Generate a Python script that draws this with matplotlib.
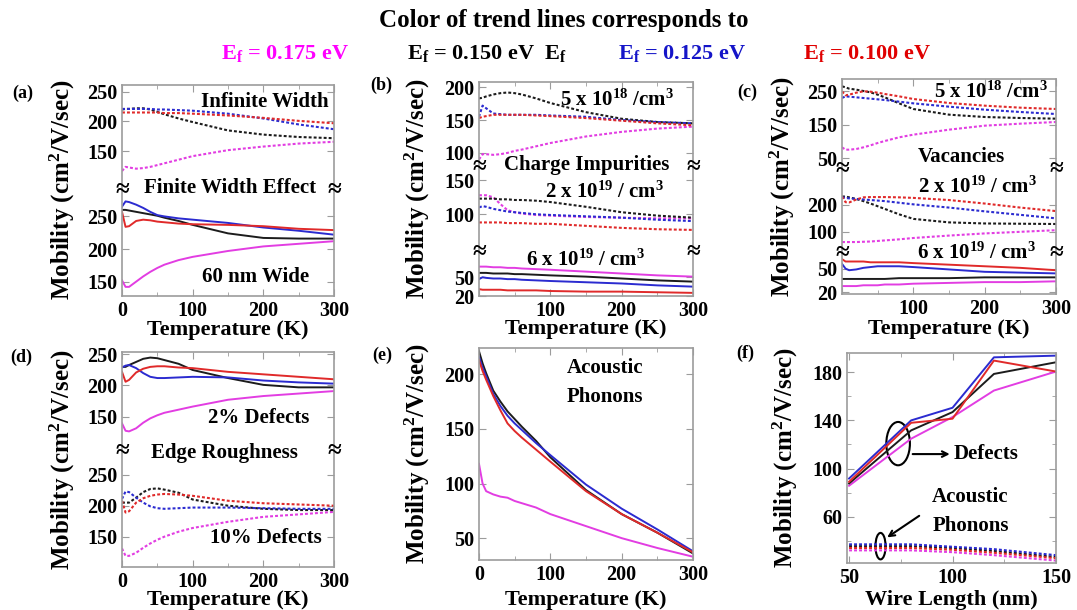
import numpy as np
import matplotlib
matplotlib.use("Agg")
import matplotlib.pyplot as plt
from matplotlib.patches import Ellipse

plt.rcParams["font.family"] = ["Liberation Serif", "DejaVu Serif"]
plt.rcParams["font.weight"] = "bold"
plt.rcParams["mathtext.fontset"] = "custom"
plt.rcParams["mathtext.rm"] = "Liberation Serif:bold"
plt.rcParams["mathtext.it"] = "Liberation Serif:bold"
plt.rcParams["mathtext.bf"] = "Liberation Serif:bold"

# temperature grid shared by panels (a)-(e)
T = [0, 5, 10, 20, 30, 40, 50, 60, 80, 100, 150, 200, 250, 300]

# (a) infinite width (dotted) / 60 nm wide (solid)
a_inf = {"m": [117, 124, 123, 121, 122, 124, 127, 130, 136, 142, 152, 158, 163, 166],
         "k": [220, 221, 221, 222, 222, 220, 216, 212, 205, 199, 185, 178, 174, 172],
         "b": [221, 221, 221, 221, 221, 221, 220, 220, 219, 218, 213, 205, 195, 187],
         "r": [215, 215, 215, 215, 215, 215, 215, 214, 214, 213, 210, 206, 201, 197]}
a_fin = {"m": [152, 142, 142, 150, 158, 165, 171, 176, 183, 188, 197, 204, 208, 212],
         "k": [260, 260, 259, 257, 255, 253, 251, 248, 243, 237, 224, 217, 216, 216],
         "b": [265, 273, 272, 268, 263, 257, 252, 250, 247, 245, 240, 233, 228, 222],
         "r": [257, 234, 235, 243, 245, 244, 242, 241, 239, 238, 237, 235, 231, 229]}

# (b) charge impurities
b_5e18 = {"m": [90, 98, 98, 97, 98, 100, 103, 105, 110, 115, 125, 132, 137, 140],
          "k": [183, 184, 186, 189, 191, 192, 191, 189, 183, 176, 162, 152, 147, 145],
          "b": [155, 172, 168, 160, 159, 158, 158, 158, 158, 157, 155, 150, 147, 145],
          "r": [153, 155, 156, 158, 158, 158, 158, 158, 157, 156, 153, 149, 145, 142]}
b_2e19 = {"m": [128, 128, 128, 125, 115, 106, 103, 101, 99, 98, 96, 95, 94, 94],
          "k": [123, 123, 123, 123, 122, 122, 121, 121, 120, 118, 111, 103, 98, 95],
          "b": [110, 112, 111, 108, 106, 104, 103, 102, 100, 99, 97, 95, 92, 90],
          "r": [88, 88, 88, 88, 88, 87, 87, 87, 86, 86, 83, 80, 78, 77]}
b_6e19 = {"m": [67, 67, 67, 66, 66, 65, 65, 64, 63, 62, 59, 56, 53, 51],
          "k": [57, 57, 57, 56, 56, 56, 55, 55, 54, 53, 51, 48, 45, 43],
          "b": [47, 50, 49, 48, 48, 47, 47, 46, 45, 44, 42, 40, 37, 35],
          "r": [31, 30, 30, 30, 30, 29, 29, 29, 29, 28, 27, 27, 26, 25]}

# (c) vacancies
c_5e18 = {"m": [82, 75, 75, 77, 82, 88, 95, 101, 112, 120, 135, 147, 153, 158],
          "k": [265, 262, 258, 255, 251, 247, 240, 232, 214, 197, 180, 173, 170, 168],
          "b": [230, 235, 234, 232, 230, 228, 226, 224, 219, 214, 204, 195, 188, 182],
          "r": [250, 238, 240, 246, 250, 249, 246, 242, 235, 227, 215, 207, 201, 197]}
c_2e19 = {"m": [62, 62, 62, 62, 63, 64, 66, 68, 72, 77, 86, 94, 100, 106],
          "k": [231, 231, 228, 222, 214, 205, 195, 185, 165, 148, 135, 131, 130, 129],
          "b": [228, 226, 224, 222, 220, 218, 216, 214, 208, 202, 190, 176, 163, 150],
          "r": [231, 210, 209, 220, 228, 229, 229, 229, 228, 226, 218, 205, 190, 177]}
c_6e19 = {"m": [28, 28, 28, 28, 29, 29, 29, 30, 30, 31, 32, 33, 33, 34],
          "k": [37, 37, 37, 37, 37, 37, 37, 37, 38, 38, 38, 39, 39, 39],
          "b": [56, 50, 48, 49, 51, 52, 53, 53, 53, 52, 49, 46, 45, 44],
          "r": [62, 59, 59, 59, 59, 58, 58, 58, 58, 57, 55, 53, 51, 48]}

# (d) edge roughness: 2% (solid) / 10% (dotted)
d_2 = {"m": [139, 127, 126, 131, 140, 147, 152, 156, 161, 166, 177, 183, 187, 191],
       "k": [230, 230, 233, 238, 243, 245, 244, 241, 235, 225, 212, 201, 197, 197],
       "b": [229, 232, 233, 228, 220, 214, 212, 212, 213, 214, 213, 208, 205, 203],
       "r": [222, 206, 209, 221, 227, 230, 231, 231, 229, 228, 222, 218, 214, 210]}
d_10 = {"m": [131, 119, 119, 124, 132, 139, 145, 150, 158, 164, 174, 182, 186, 190],
        "k": [205, 205, 205, 213, 222, 227, 228, 226, 221, 210, 200, 195, 193, 193],
        "b": [211, 223, 222, 213, 205, 199, 196, 195, 196, 197, 197, 196, 195, 195],
        "r": [208, 189, 191, 205, 212, 216, 218, 219, 218, 216, 208, 204, 202, 200]}

# (e) acoustic phonons
e_ac = {"m": [118, 100, 93, 90, 88, 87, 84, 82, 78, 72, 61, 50, 41, 33],
        "k": [221, 210, 201, 185, 175, 166, 159, 152, 139, 124, 94, 72, 55, 36],
        "b": [216, 206, 198, 182, 171, 162, 155, 149, 137, 126, 99, 77, 58, 38],
        "r": [213, 203, 195, 180, 167, 155, 148, 142, 131, 120, 93, 72, 55, 37]}

# (f) mobility vs wire length
L = [50, 80, 100, 120, 150]
f_def = {"m": [85.7, 124.8, 142.8, 164.8, 180.6],
         "k": [87.6, 131.7, 146.9, 178.6, 188.3],
         "b": [91.7, 140.0, 150.5, 192.4, 193.8],
         "r": [89.0, 138.0, 141.4, 189.7, 180.6]}
f_ac = {"m": [32, 32, 30.5, 28, 23.5],
        "k": [35.5, 35.5, 34, 31.5, 26.5],
        "b": [37, 37, 35, 33, 28],
        "r": [34, 34, 32.5, 30, 25.5]}

COL = {"m": "#e23de2", "k": "#1c1c1c", "b": "#2b2bd0", "r": "#e02a2a"}
GRAY = "#9c9c9c"
DOT = (0, (1.4, 1.0))
TICK_FS = 14.5
TXT_FS = 15

W, H = 1077, 610
fig = plt.figure(figsize=(W / 100, H / 100), dpi=100)


def box(x0, y0, x1, y1):
    return [x0 / W, 1 - y1 / H, (x1 - x0) / W, (y1 - y0) / H]


def ftext(x, y, s, **kw):
    kw.setdefault("ha", "center")
    kw.setdefault("va", "center")
    kw.setdefault("fontsize", TXT_FS)
    fig.text(x / W, 1 - y / H, s, fontweight="bold", **kw)


def style_ax(ax, top=True, bottom=True):
    for s in ax.spines.values():
        s.set_color(GRAY)
        s.set_linewidth(1.2)
    ax.spines["top"].set_visible(top)
    ax.spines["bottom"].set_visible(bottom)
    ax.tick_params(which="both", direction="in", colors=GRAY, labelcolor="black",
                   labelsize=TICK_FS, left=True, right=True, top=top, bottom=bottom,
                   labelbottom=bottom)
    ax.tick_params(which="major", length=5)
    ax.tick_params(which="minor", length=3)
    ax.patch.set_alpha(0)


def stack(x0, x1, ys, ylims, yticks, show0):
    axs = []
    n = len(ylims)
    for i in range(n):
        ax = fig.add_axes(box(x0, ys[i], x1, ys[i + 1]))
        ax.set_xlim(0, 300)
        ax.set_ylim(*ylims[i])
        ax.set_yticks(yticks[i])
        ax.set_xticks([0, 100, 200, 300])
        ax.set_xticks([50, 150, 250], minor=True)
        ax.set_xticklabels(["0" if show0 else "", "100", "200", "300"])
        style_ax(ax, top=(i == 0), bottom=(i == n - 1))
        axs.append(ax)
    for y in ys[1:-1]:
        ftext(x0, y, "≈", fontsize=18)
        ftext(x1, y, "≈", fontsize=18)
    return axs


def curves(ax, x, d, ls="-", lw=1.4):
    for k in ["m", "k", "b", "r"]:
        ax.plot(x, d[k], color=COL[k], lw=lw, ls=ls)


# header
ftext(564, 20, "Color of trend lines corresponds to", fontsize=18)
ftext(285, 54, r"E$_\mathregular{f}$ = 0.175 eV", fontsize=16, color="#ff00ff")
ftext(487, 54, r"E$_\mathregular{f}$ = 0.150 eV  E$_\mathregular{f}$", fontsize=16, color="black")
ftext(682, 54, r"E$_\mathregular{f}$ = 0.125 eV", fontsize=16, color="#1515c8")
ftext(867, 54, r"E$_\mathregular{f}$ = 0.100 eV", fontsize=16, color="#e00000")

YLAB = r"Mobility (cm$^\mathregular{2}$/V/sec)"

# (a)
ax_t, ax_b = stack(122, 334, [85, 189, 296], [(87, 261), (128, 292)],
                   [[150, 200, 250], [150, 200, 250]], True)
curves(ax_t, T, a_inf, DOT, 1.5)
curves(ax_b, T, a_fin)
ftext(265, 102, "Infinite Width")
ftext(230, 188, "Finite Width Effect")
ftext(256, 277, "60 nm Wide")
ftext(23, 93, "(a)", fontsize=13)
ftext(62, 190, YLAB, rotation=90, fontsize=18)
ftext(228, 330, "Temperature (K)", fontsize=16)

# (b)
b1, b2, b3 = stack(479, 693, [82, 166, 251, 296], [(80, 208), (46, 171), (20, 92)],
                   [[100, 150, 200], [100, 150], [20, 50]], False)
curves(b1, T, b_5e18, DOT, 1.5)
curves(b2, T, b_2e19, DOT, 1.5)
curves(b3, T, b_6e19)
ftext(617, 100, r"5 x 10$^{\mathregular{18}}$ /cm$^\mathregular{3}$")
ftext(587, 165, "Charge Impurities")
ftext(605, 192, r"2 x 10$^{\mathregular{19}}$ / cm$^\mathregular{3}$")
ftext(586, 260, r"6 x 10$^{\mathregular{19}}$ / cm$^\mathregular{3}$")
ftext(381, 85, "(b)", fontsize=13)
ftext(417, 189, YLAB, rotation=90, fontsize=18)
ftext(586, 329, "Temperature (K)", fontsize=16)

# (c)
c1, c2, c3 = stack(842, 1056, [79, 168, 252, 294], [(20, 287), (25, 337), (18, 71)],
                   [[50, 150, 250], [100, 200], [20, 50]], False)
curves(c1, T, c_5e18, DOT, 1.5)
curves(c2, T, c_2e19, DOT, 1.5)
curves(c3, T, c_6e19)
ftext(991, 92, r"5 x 10$^{\mathregular{18}}$ /cm$^\mathregular{3}$")
ftext(961, 157, "Vacancies")
ftext(978, 187, r"2 x 10$^{\mathregular{19}}$ / cm$^\mathregular{3}$")
ftext(977, 253, r"6 x 10$^{\mathregular{19}}$ / cm$^\mathregular{3}$")
ftext(747, 92, "(c)", fontsize=13)
ftext(782, 187, YLAB, rotation=90, fontsize=18)
ftext(949, 329, "Temperature (K)", fontsize=16)

# (d)
d1, d2 = stack(122, 334, [352, 450, 567], [(96, 254), (101, 290)],
               [[150, 200, 250], [150, 200, 250]], True)
curves(d1, T, d_2)
curves(d2, T, d_10, DOT, 1.5)
ftext(259, 418, "2% Defects")
ftext(224, 453, "Edge Roughness")
ftext(266, 538, "10% Defects")
ftext(21, 357, "(d)", fontsize=13)
ftext(62, 460, YLAB, rotation=90, fontsize=18)
ftext(228, 600, "Temperature (K)", fontsize=16)

# (e)
ax_e = fig.add_axes(box(479, 348, 693, 560))
curves(ax_e, T, e_ac)
ax_e.set_xlim(0, 300)
ax_e.set_ylim(30, 224)
ax_e.set_xticks([0, 100, 200, 300])
ax_e.set_xticks([50, 150, 250], minor=True)
ax_e.set_yticks([50, 100, 150, 200])
style_ax(ax_e)
ftext(605, 368, "Acoustic")
ftext(605, 397, "Phonons")
ftext(382, 355, "(e)", fontsize=13)
ftext(417, 454, YLAB, rotation=90, fontsize=18)
ftext(586, 600, "Temperature (K)", fontsize=16)

# (f)
ax_f = fig.add_axes(box(847, 353, 1056, 563))
curves(ax_f, L, f_def)
curves(ax_f, L, f_ac, DOT, 1.5)
ax_f.set_xlim(49, 150)
ax_f.set_ylim(21.5, 196)
ax_f.set_xticks([50, 100, 150])
ax_f.set_xticks([75, 125], minor=True)
ax_f.set_yticks([60, 100, 140, 180])
ax_f.set_yticks([40, 80, 120, 160], minor=True)
style_ax(ax_f)
ax_f.add_patch(Ellipse((73.7, 120.7), 11.4, 36, fill=False, lw=1.5, color="black"))
ax_f.annotate("", xy=(100, 112), xytext=(79.4, 112),
              arrowprops=dict(arrowstyle="->", lw=1.5, color="black"))
ax_f.text(100.3, 112, "Defects", ha="left", va="center", fontsize=TXT_FS, fontweight="bold")
ax_f.add_patch(Ellipse((65.2, 35.5), 4.9, 22, fill=False, lw=1.5, color="black"))
ax_f.annotate("", xy=(67.3, 41.5), xytext=(85, 62),
              arrowprops=dict(arrowstyle="->", lw=1.5, color="black"))
ax_f.text(108.7, 64, "Acoustic\nPhonons", ha="center", va="center",
          fontsize=TXT_FS, fontweight="bold", linespacing=1.6)
ftext(745, 353, "(f)", fontsize=13)
ftext(785, 458, YLAB, rotation=90, fontsize=18)
ftext(951, 600, "Wire Length (nm)", fontsize=16)

fig.savefig("out.png", dpi=100)
